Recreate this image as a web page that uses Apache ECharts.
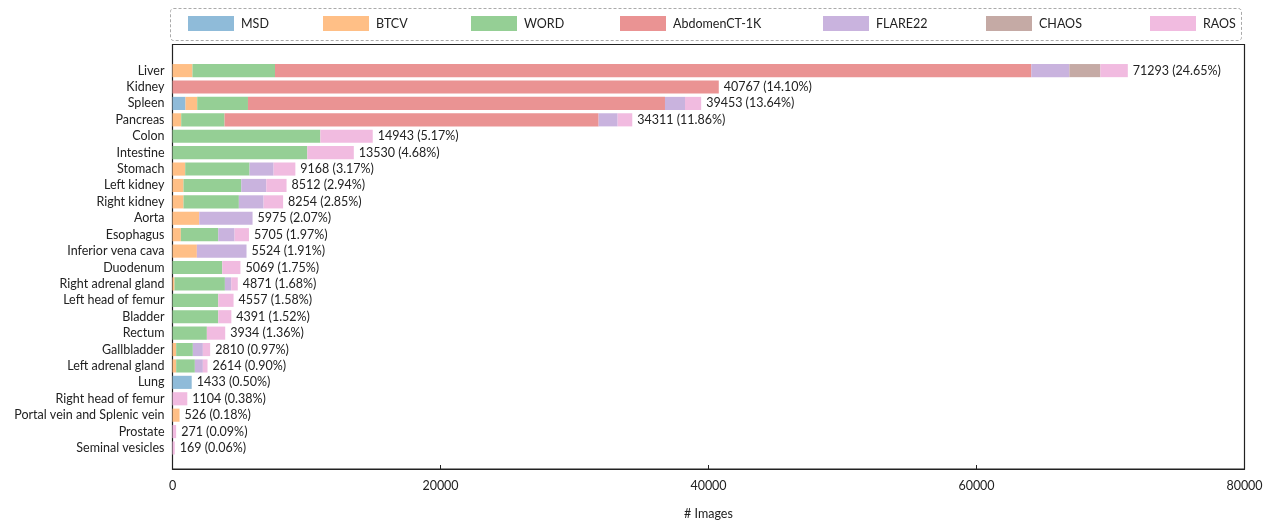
<!DOCTYPE html>
<html>
<head>
<meta charset="utf-8">
<script src="https://cdn.jsdelivr.net/npm/echarts@6/dist/echarts.min.js"></script>
<style>html,body{margin:0;padding:0;background:#fff}#c{width:1268px;height:525px}</style>
</head>
<body>
<div id="c"></div>
<script>
const categories = ["Liver","Kidney","Spleen","Pancreas","Colon","Intestine","Stomach","Left kidney","Right kidney","Aorta","Esophagus","Inferior vena cava","Duodenum","Right adrenal gland","Left head of femur","Bladder","Rectum","Gallbladder","Left adrenal gland","Lung","Right head of femur","Portal vein and Splenic vein","Prostate","Seminal vesicles"];
const datasetNames = ["MSD","BTCV","WORD","AbdomenCT-1K","FLARE22","CHAOS","RAOS"];
const MSD      = [0,0,971,0,0,0,0,0,0,0,0,0,0,0,0,0,0,0,0,1433,0,0,0,0];
const BTCV     = [1490,0,874,650,0,0,949,822,822,1994,623,1818,0,150,0,0,0,274,274,0,0,526,0,0];
const WORD     = [6160,0,3787,3235,11033,10062,4803,4310,4131,0,2789,0,3714,3760,3415,3415,2565,1245,1394,0,0,0,0,0];
const ABDOMEN  = [56440,40767,31120,27915,0,0,0,0,0,0,0,0,0,0,0,0,0,0,0,0,0,0,0,0];
const FLARE22  = [2840,0,1494,1419,0,0,1793,1868,1843,3981,1220,3706,0,473,0,0,0,747,598,0,0,0,0,0];
const CHAOS    = [2316,0,0,0,0,0,0,0,0,0,0,0,0,0,0,0,0,0,0,0,0,0,0,0];
const RAOS     = [2047,0,1207,1092,3910,3468,1623,1512,1458,0,1073,0,1355,488,1142,976,1369,544,348,0,1104,0,271,169];
const totals   = [71293,40767,39453,34311,14943,13530,9168,8512,8254,5975,5705,5524,5069,4871,4557,4391,3934,2810,2614,1433,1104,526,271,169];
const xTicks   = [0,20000,40000,60000,80000];

const seriesValues = [MSD,BTCV,WORD,ABDOMEN,FLARE22,CHAOS,RAOS];
const colors = ["#8fbbd9","#ffbf86","#95cf95","#ea9393","#c9b3de","#c5aaa5","#f1bbe0"];
const grandTotal = totals.reduce((a,b)=>a+b,0);
const FONT = "Lato";
const FS = 12.5;

const series = datasetNames.map((n,i)=>({
  name:n, type:'bar', stack:'all', xAxisIndex:1, yAxisIndex:1,
  barWidth:'80%', barGap:'-100%',
  itemStyle:{color:colors[i]},
  data:seriesValues[i].map(v=>v===0?null:v)
}));
series.push({
  name:'total', type:'bar', xAxisIndex:1, yAxisIndex:1, barWidth:'80%', barGap:'-100%',
  silent:true, itemStyle:{color:'rgba(0,0,0,0)'}, z:1,
  label:{show:true, position:'right', distance:5, fontFamily:FONT, fontSize:FS, color:'#222',
    formatter:p=>p.value+' ('+(p.value/grandTotal*100).toFixed(2)+'%)'},
  data:totals
});

const legendLefts = [188,323,471,620,823,986,1150];
const legends = datasetNames.map((n,i)=>({
  data:[n], left:legendLefts[i], top:16, padding:0, itemWidth:46, itemHeight:15, itemGap:0,
  icon:'rect', selectedMode:false,
  textStyle:{fontFamily:FONT, fontSize:FS, color:'#222', padding:[0,0,0,2]}
}));

const chart = echarts.init(document.getElementById('c'), null, {renderer:'canvas'});
chart.setOption({
  animation:false,
  color:colors,
  legend:legends,
  graphic:[{type:'rect', shape:{x:170.5,y:8.5,width:1071,height:32,r:3}, silent:true,
    style:{fill:'none', stroke:'#aaaaaa', lineWidth:1, lineDash:[3,2]}}],
  grid:[
    {left:172.5, right:23.5, top:44.5, bottom:51, show:true, borderColor:'#222', borderWidth:1.2, backgroundColor:'transparent'},
    {left:172.5, right:23.5, top:62.4, bottom:68.8}
  ],
  xAxis:[
    {type:'value', gridIndex:0, min:0, max:80000, interval:20000,
      axisLine:{show:true, lineStyle:{color:'#222', width:1.2}},
      axisTick:{show:true, inside:true, length:4, lineStyle:{color:'#222'}},
      axisLabel:{fontFamily:FONT, fontSize:FS, color:'#222', margin:10, formatter:v=>String(v)},
      splitLine:{show:false},
      name:'# Images', nameLocation:'middle', nameGap:38,
      nameTextStyle:{fontFamily:FONT, fontSize:FS, color:'#222'}},
    {type:'value', gridIndex:1, min:0, max:80000, show:false}
  ],
  yAxis:[
    {type:'value', gridIndex:0, show:false},
    {type:'category', gridIndex:1, data:categories, inverse:true,
      axisLine:{show:false}, axisTick:{show:false},
      axisLabel:{fontFamily:FONT, fontSize:FS, color:'#222', margin:8, interval:0}}
  ],
  series:series
});
</script>
</body>
</html>
